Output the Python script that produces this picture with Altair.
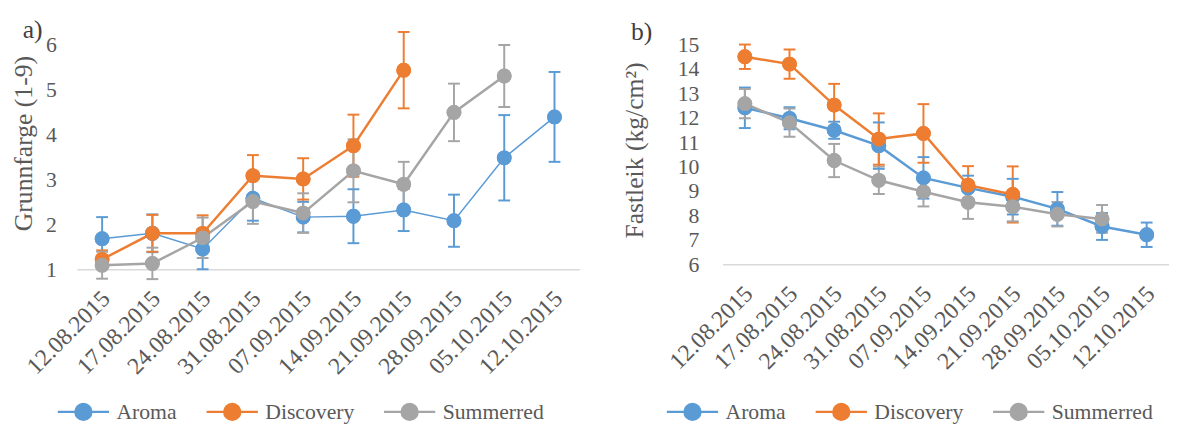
import altair as alt
import pandas as pd

dates = ["12.08.2015", "17.08.2015", "24.08.2015", "31.08.2015", "07.09.2015",
         "14.09.2015", "21.09.2015", "28.09.2015", "05.10.2015", "12.10.2015"]
varieties = ["Aroma", "Discovery", "Summerred"]
colors = ["#5B9BD5", "#ED7D31", "#A5A5A5"]

# Panel a) Grunnfarge (1-9): means and error-bar half widths
a_aroma = [1.68, 1.80, 1.45, 2.58, 2.16, 2.18, 2.32, 2.08, 3.48, 4.39]
a_aroma_err = [0.48, 0.42, 0.45, 0.50, 0.34, 0.60, 0.47, 0.58, 0.95, 1.00]
a_disc = [1.22, 1.80, 1.80, 3.08, 3.01, 3.75, 5.43]
a_disc_err = [0.20, 0.41, 0.40, 0.46, 0.46, 0.69, 0.85]
a_summ = [1.09, 1.13, 1.70, 2.51, 2.25, 3.19, 2.89, 4.49, 5.30]
a_summ_err = [0.30, 0.35, 0.45, 0.50, 0.44, 0.70, 0.50, 0.64, 0.69]

# Panel b) Fastleik (kg/cm2)
b_aroma = [12.41, 11.98, 11.49, 10.86, 9.54, 9.13, 8.77, 8.27, 7.55, 7.21]
b_aroma_err = [0.83, 0.45, 0.35, 0.95, 0.85, 0.50, 0.73, 0.69, 0.55, 0.50]
b_disc = [14.50, 14.20, 12.52, 11.13, 11.36, 9.24, 8.86]
b_disc_err = [0.50, 0.60, 0.87, 1.05, 1.20, 0.78, 1.15]
b_summ = [12.58, 11.80, 10.25, 9.44, 8.97, 8.54, 8.36, 8.05, 7.86]
b_summ_err = [0.60, 0.58, 0.68, 0.56, 0.60, 0.68, 0.60, 0.50, 0.57]

a_ticks = [1, 2, 3, 4, 5, 6]
b_ticks = [6, 7, 8, 9, 10, 11, 12, 13, 14, 15]

FONT = "Liberation Serif"
GRAY = "#595959"
SYMBOL = "M-2,0L2,0M0.62,0A0.62,0.62,0,1,1,-0.62,0A0.62,0.62,0,1,1,0.62,0Z"


def long_df(series):
    rows = []
    for v, (means, errs) in zip(varieties, series):
        for d, m, e in zip(dates, means, errs):
            rows.append({"date": d, "variety": v, "mean": m, "lo": m - e, "hi": m + e})
    return pd.DataFrame(rows)


def panel(df, ytitle, ydomain, yvalues, width, height, letter, letter_xy,
          title_xy, legend_xy, aroma_width, ylabel_pad):
    x = alt.X("date:N", sort=dates, scale=alt.Scale(type="point", padding=0.5),
              axis=alt.Axis(title=None, labelAngle=-45, labelAlign="right",
                            labelBaseline="middle", labelPadding=26, labelOffset=4,
                            labelFontSize=24, labelFont=FONT, labelColor=GRAY,
                            ticks=False, domainColor="#D9D9D9", domainWidth=1.5,
                            labelOverlap=False, grid=False))
    yaxis = alt.Axis(title=ytitle, values=yvalues, domain=False, ticks=False,
                     grid=False, labelPadding=ylabel_pad, labelFontSize=22,
                     labelFont=FONT, labelColor=GRAY, titleFont=FONT,
                     titleFontSize=26, titleColor=GRAY, titleFontWeight="normal",
                     titleX=title_xy[0], titleY=title_xy[1], titleBaseline="middle")
    yscale = alt.Scale(domain=ydomain, nice=False, zero=False)

    def y(field):
        return alt.Y(field, scale=yscale, axis=yaxis)

    cscale = alt.Scale(domain=varieties, range=colors)
    leg = alt.Legend(title=None, orient="none", legendX=legend_xy[0],
                     legendY=legend_xy[1], direction="horizontal",
                     symbolType=SYMBOL, symbolSize=676, symbolStrokeWidth=2.5,
                     labelFont=FONT, labelFontSize=22, labelColor=GRAY,
                     labelOffset=19, columnPadding=24, symbolOpacity=1)
    stroke = alt.Stroke("variety:N", scale=cscale, legend=leg)
    fill = alt.Fill("variety:N", scale=cscale, legend=leg)
    base = alt.Chart(df)
    rules = base.mark_rule(strokeWidth=2).encode(
        x=x, y=y("lo:Q"), y2="hi:Q", stroke=stroke)
    cap_hi = base.mark_tick(size=12, thickness=2, opacity=1).encode(
        x=x, y=y("hi:Q"), fill=fill)
    cap_lo = base.mark_tick(size=12, thickness=2, opacity=1).encode(
        x=x, y=y("lo:Q"), fill=fill)
    line_aroma = base.transform_filter(alt.datum.variety == "Aroma").mark_line(
        strokeWidth=aroma_width).encode(x=x, y=y("mean:Q"), stroke=stroke)
    line_rest = base.transform_filter(alt.datum.variety != "Aroma").mark_line(
        strokeWidth=2.5).encode(x=x, y=y("mean:Q"), stroke=stroke)
    points = base.mark_point(filled=True, size=170, opacity=1).encode(
        x=x, y=y("mean:Q"), fill=fill, stroke=stroke)
    label = alt.Chart(pd.DataFrame({"t": [letter]})).mark_text(
        font=FONT, fontSize=26, color="#404040", align="center",
        baseline="middle").encode(
        text="t:N", x=alt.value(letter_xy[0]), y=alt.value(letter_xy[1]))
    # the first points layer only fixes the legend look; the last one is drawn on top
    return alt.layer(points, rules, cap_hi, cap_lo, line_aroma, line_rest, points,
                     label).properties(width=width, height=height)


df_a = long_df([(a_aroma, a_aroma_err), (a_disc, a_disc_err), (a_summ, a_summ_err)])
df_b = long_df([(b_aroma, b_aroma_err), (b_disc, b_disc_err), (b_summ, b_summ_err)])

left = panel(df_a, "Grunnfarge (1-9)", [1, 6], a_ticks, 510, 228, "a)",
             (-45, -15), (-54, 100), (-8, 358), 1.5, 21)
right = panel(df_b, "Fastleik (kg/cm²)", [6, 15], b_ticks, 453, 223, "b)",
              (-82, -13), (-89, 107), (-45, 358), 2.5, 24)

chart = alt.hconcat(left, right, spacing=42).resolve_scale(
    fill="independent", stroke="independent"
).resolve_legend(fill="independent", stroke="independent").configure(
    padding={"left": 2, "top": 6, "right": 0, "bottom": 0}
).configure_view(stroke=None).configure_legend(
    labelFont=FONT, labelFontSize=22, labelColor=GRAY
)

chart.save("out.html", embed_options={"renderer": "svg", "actions": False})
